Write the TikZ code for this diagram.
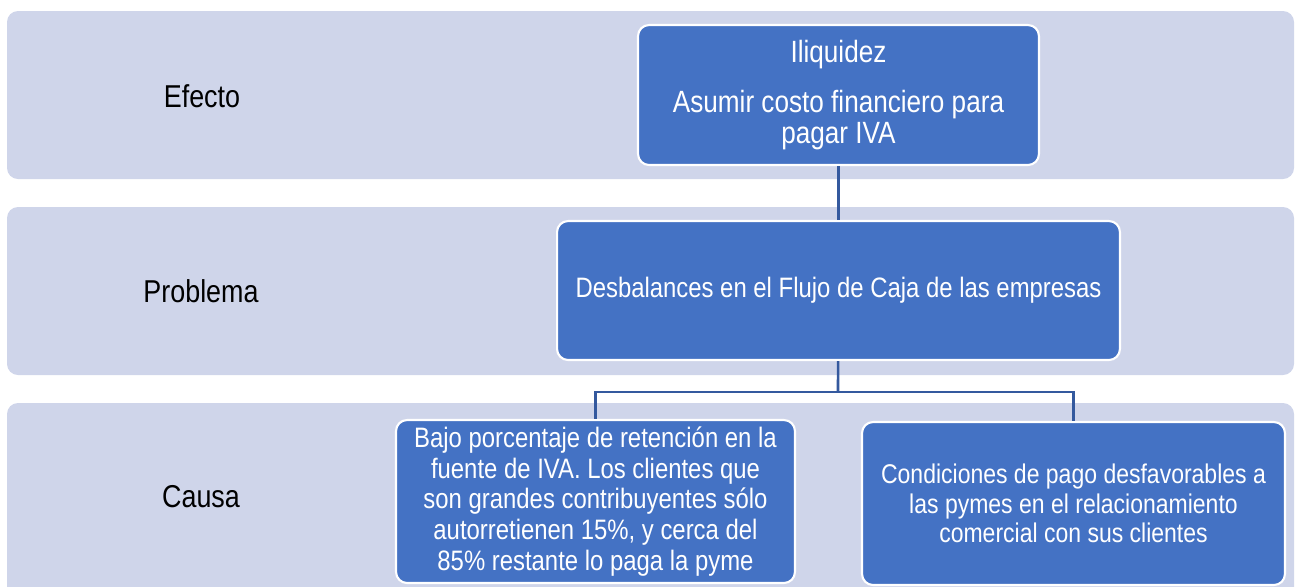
\documentclass[tikz,border=0pt]{standalone}
\usepackage{fontspec}
\setmainfont{Liberation Sans}[FakeStretch=0.85]
\usetikzlibrary{positioning}

\definecolor{bandfill}{HTML}{CFD5EA}
\definecolor{boxfill}{HTML}{4472C4}
\definecolor{linkcol}{HTML}{34599E}

\tikzset{
	band/.style={fill=bandfill, draw=none, rounded corners=0.22cm},
	rowlabel/.style={font=\fontsize{18}{21}\selectfont, text=black},
	item/.style={draw=white, line width=1.2pt, fill=boxfill, rounded corners=0.22cm,
		text=white, align=center, inner sep=0pt,
		font=\fontsize{16}{17.5}\selectfont},
	link/.style={draw=linkcol, line width=1.5pt}
}

\begin{document}
\begin{tikzpicture}[x=0.02cm, y=-0.02cm]

\useasboundingbox (0, 0) rectangle (1296, 586);
\clip (0, 0) rectangle (1296, 586);

% bands
\fill[band] (7, 11) rectangle (1294, 179);
\fill[band] (7, 207) rectangle (1294, 375);
\fill[band] (7, 403) rectangle (1294, 620);

\node[rowlabel] (lefecto) at (202, 96) {Efecto};
\node[rowlabel] (lproblema) at (201, 291) {Problema};
\node[rowlabel] (lcausa) at (201, 497) {Causa};

% boxes
\node[item, minimum width=8.02cm, minimum height=2.8cm,
	font=\fontsize{17.5}{17.6}\selectfont] (efecto) at (838.5, 95)
	{Iliquidez\\[11pt] Asumir costo financiero para\\ pagar IVA};
\node[item, minimum width=11.26cm, minimum height=2.78cm] (problema) at (838.5, 290.5)
	{Desbalances en el Flujo de Caja de las empresas};
\node[item, minimum width=7.98cm, minimum height=3.26cm] (causaa) at (595.5, 501.5)
	{Bajo porcentaje de retención en la\\ fuente de IVA. Los clientes que\\
	 son grandes contribuyentes sólo\\ autorretienen 15\%, y cerca del\\
	 85\% restante lo paga la pyme};
\node[item, minimum width=8.46cm, minimum height=3.26cm,
	font=\fontsize{15.4}{16.9}\selectfont] (causab) at (1073.5, 503.5)
	{Condiciones de pago desfavorables a\\ las pymes en el relacionamiento\\
	 comercial con sus clientes};

% connectors
\coordinate (split) at (838, 392);
\draw[link] (efecto) -- (problema);
\draw[link] (problema) -- (split);
\draw[link] (split) -| (causaa.north);
\draw[link] (split) -| (causab.north);

\end{tikzpicture}
\end{document}
